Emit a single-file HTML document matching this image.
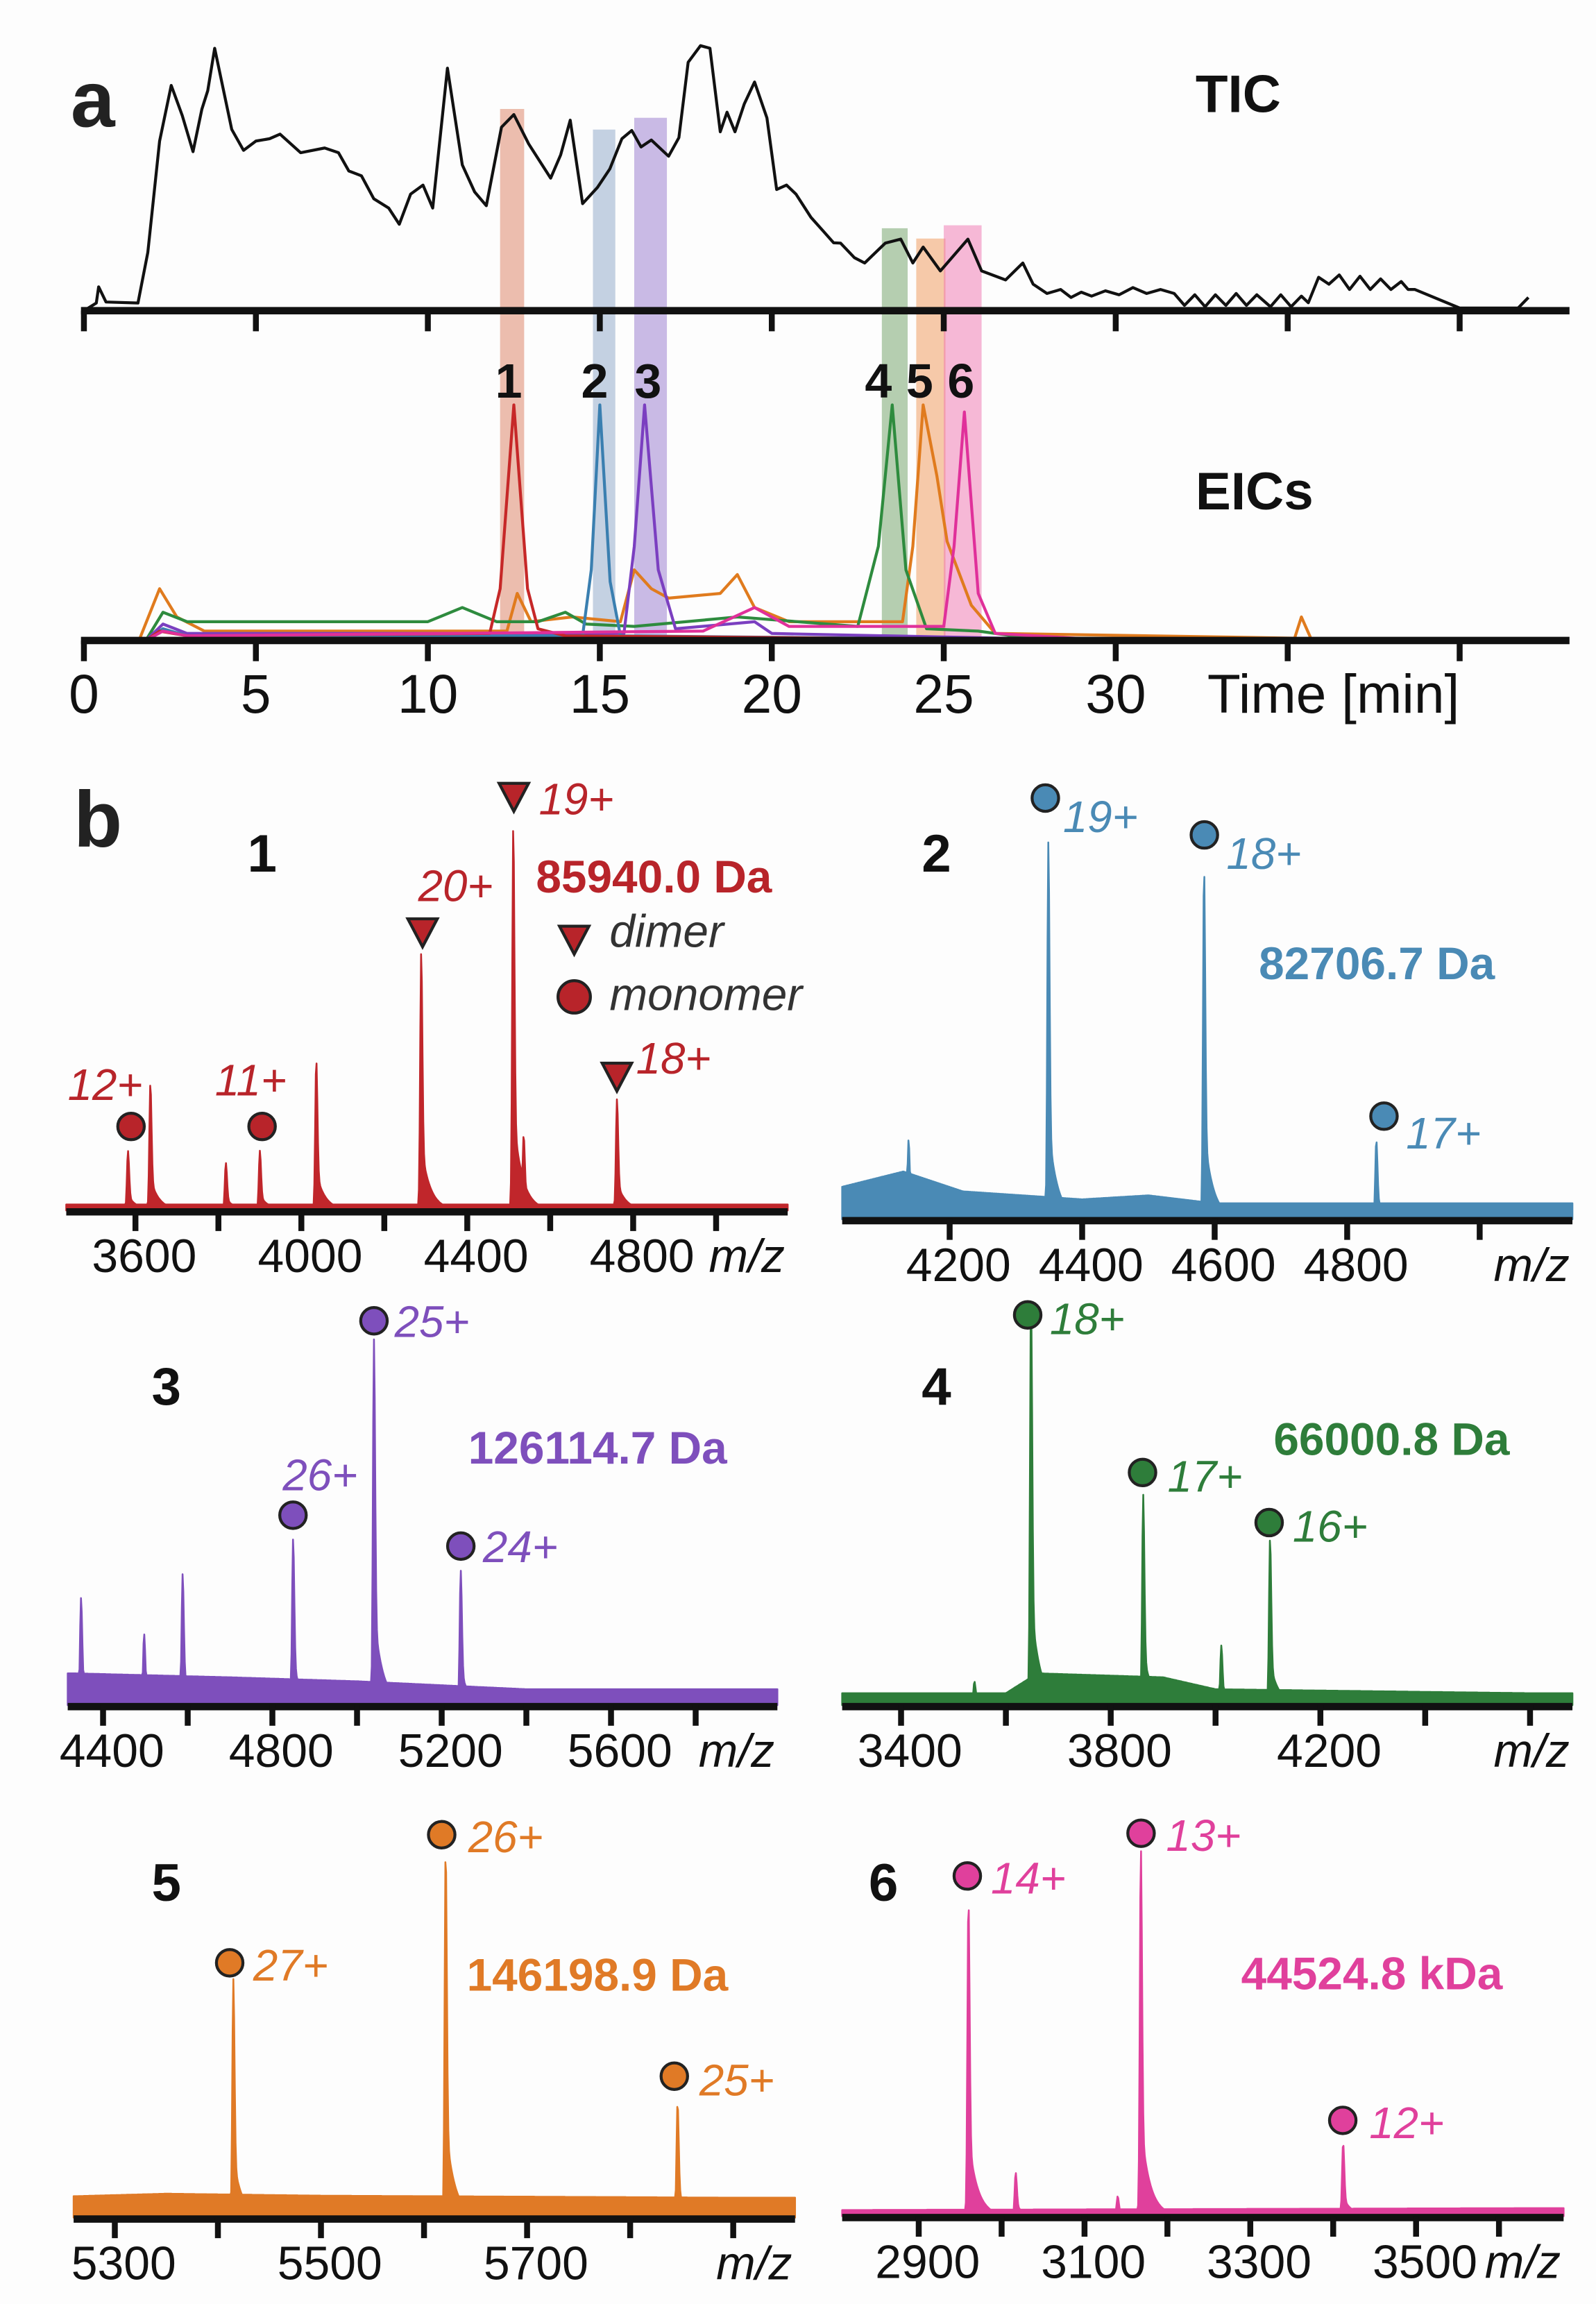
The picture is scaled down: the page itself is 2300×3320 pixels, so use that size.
<!DOCTYPE html>
<html><head><meta charset="utf-8">
<style>
html,body{margin:0;padding:0;background:#fdfdfd;}
svg{display:block;}
text{font-family:"Liberation Sans",Arial,sans-serif;}
</style></head>
<body>
<svg id="fig" xmlns="http://www.w3.org/2000/svg" width="2300" height="3320" viewBox="0 0 1084 1564.7" preserveAspectRatio="none">
<rect x="0" y="0" width="1084" height="1564.7" fill="#fdfdfd"/>
<g id="panelA"></g>
<g id="panelB"></g>
</svg>
<script>
// ---------- Panel a data ----------
const ticTimes = [0,0.36,0.43,0.64,1.57,1.86,2.2,2.54,2.86,3.17,3.43,3.6,3.8,4.3,4.64,5.0,5.4,5.7,6.3,7.0,7.4,7.7,8.07,8.43,8.86,9.17,9.5,9.86,10.14,10.57,11.0,11.36,11.7,12.14,12.5,12.93,13.57,13.86,14.14,14.5,14.93,15.29,15.64,15.93,16.2,16.5,17.0,17.3,17.57,17.93,18.2,18.5,18.7,18.93,19.2,19.5,19.86,20.14,20.43,20.7,21.14,21.5,21.8,22.0,22.4,22.7,23.3,23.75,24.1,24.4,24.9,25.7,26.1,26.8,27.3,27.6,28.0,28.4,28.7,29.0,29.3,29.7,30.1,30.5,30.9,31.3,31.7,32.0,32.3,32.6,32.9,33.2,33.5,33.8,34.1,34.5,34.8,35.1,35.4,35.6,35.9,36.2,36.5,36.8,37.1,37.4,37.7,38.0,38.3,38.5,38.7,40.0,41.0,41.5,41.7,42.0];
const ticValues = [0,2.9,9,3.3,2.9,22,64,85,73.6,60,76,83,99,68.4,60.5,64,64.9,66.6,59.6,61.4,59.6,52.7,50.9,42.2,38.7,32.6,44,47.4,38.7,91.5,55,44.8,39.6,69.2,74,63,50,58.8,71.9,40.4,46.5,53.5,64.9,68,61.8,64.4,58.3,65.3,93.7,100,99,67.5,74.9,67.5,78,86.3,72.7,45.7,47.4,44,35.2,30,25.6,25.5,20,18,25.5,27,18,24,15,27,15,11.6,18,10,6.5,8,5,7,5.5,7.5,6,8.7,6.5,8,6.5,2,6,1.5,6,2,6.5,2,6,1.5,6,1.5,5.5,3,12.6,10,13.5,8,13,8,12,8,11,8,8,1,1,1,1,5,0];
const eicTimes = [0,5,10,15,20,25,30];
const eicSeries = {
  red:   [[0,0],[1.8,0],[2.2,4],[3,2],[11.8,3],[12.1,22],[12.5,100],[12.9,22],[13.2,5],[14,2],[30,0]],
  blue:  [[0,0],[1.8,0],[2.3,5],[3,2],[14.5,2],[14.75,30],[15.0,100],[15.3,25],[15.6,2],[30,0]],
  purple:[[0,0],[1.8,0],[2.3,7],[3,3],[15.7,3],[16.0,40],[16.3,100],[16.7,30],[17.2,5],[19.5,8],[20,3],[30,0]],
  green: [[0,0],[1.8,0],[2.3,12],[3,8],[10,8],[11,14],[12,8],[13.2,8],[14,12],[14.6,7],[16,6],[19,10],[22.5,6],[23.1,40],[23.5,100],[23.9,30],[24.5,5],[26,4],[28,0],[36,0]],
  orange:[[0,0],[1.6,0],[2.2,22],[2.7,10],[3.5,4],[12.3,4],[12.6,20],[13,8],[14.2,10],[15.6,8],[16.0,30],[16.5,22],[17.0,18],[18.5,20],[19.0,28],[19.5,14],[20.5,8],[23.8,8],[24.1,40],[24.4,100],[24.8,70],[25.1,42],[25.8,15],[26.5,3],[31,2],[35.2,1],[35.4,10],[35.7,0],[36,0]],
  pink:  [[0,0],[1.8,0],[2.3,4],[3,2],[18,4],[19.5,14],[20.5,6],[25.0,6],[25.3,40],[25.6,97],[26.0,20],[26.5,3],[30,0]]
};
const eicColors = {red:"#c62828",blue:"#3a7fb0",purple:"#7b3fc0",green:"#2e8b3e",orange:"#e07b1e",pink:"#e0309a"};
const bandStart = [12.1,14.8,16.0,23.2,24.2,25.0];
const bandEnd   = [12.8,15.45,16.95,23.95,25.05,26.1];
const bandTop   = [74,88,80,155,162,153];
const bandColors= ["rgba(220,125,95,0.5)","rgba(140,165,200,0.5)","rgba(150,120,205,0.5)","rgba(110,160,100,0.5)","rgba(240,150,85,0.5)","rgba(240,115,175,0.5)"];
const bandLabels= ["1","2","3","4","5","6"];
const bandLabelTimes=[12.35,14.85,16.4,23.1,24.3,25.5];

// ---------- Panel b data ----------
const s1Peaks = [3582,3636,3818,3900,4036,4289,4511,4536,4761];
const s1Heights=[15,32,12,15,38,65,97,19,28];
const s2Peaks = [4000,4020,4138,4349,4584,4844];
const s2Heights=[14,14,20,95,89,20];
const s3Peaks = [4348,4497,4588,4849,5040,5245];
const s3Heights=[27,18,33,42,92,34];
const s4Peaks = [3648,3862,4011,4104,3540];
const s4Heights=[103,53,15,42,6];
const s5Peaks = [5415,5621,5846];
const s5Heights=[60,93,29];
const s6Peaks = [2960,3017,3168,3412,3140];
const s6Heights=[80,11,93,18.5,5];
const s1Ticks=[3600,3800,4000,4200,4400,4600,4800,5000];
const s1Labels=[3600,4000,4400,4800];
const s2Ticks=[4200,4400,4600,4800,5000];
const s2Labels=[4200,4400,4600,4800];
const s3Ticks=[4400,4600,4800,5000,5200,5400,5600,5800];
const s3Labels=[4400,4800,5200,5600];
const s4Ticks=[3400,3600,3800,4000,4200,4400,4600];
const s4Labels=[3400,3800,4200];
const s5Ticks=[5300,5400,5500,5600,5700,5800,5900];
const s5Labels=[5300,5500,5700];
const s6Ticks=[2900,3000,3100,3200,3300,3400,3500,3600];
const s6Labels=[2900,3100,3300,3500];
// baseline noise levels [m/z, level]
const s1Base=[[3420,1.5],[5180,1.5]];
const s2Base=[[4010,7],[4130,12],[4220,7],[4400,5],[4500,6],[4600,4],[4800,4],[5120,4]];
const s3Base=[[4330,8],[4700,7],[5000,6],[5400,4],[6000,4]];
const s4Base=[[3370,3],[3600,3],[3660,8],[3900,7],[4000,4],[4600,3]];
const s5Base=[[5210,5],[5350,6],[5500,5.5],[5900,5]];
const s6Base=[[2780,1.5],[3650,2]];

const NS="http://www.w3.org/2000/svg";
function mk(tag,attrs,parent){const e=document.createElementNS(NS,tag);for(const k in attrs)e.setAttribute(k,attrs[k]);parent.appendChild(e);return e;}
function txt(s,attrs,parent){const e=mk("text",attrs,parent);e.textContent=s;return e;}

// ---------- Panel a ----------
const A=document.getElementById("panelA");
const tx=t=>57+t*23.36;
const ticY=v=>211-v*1.8;
const eicY=v=>435-v*1.6;

for(let i=0;i<bandStart.length;i++){
  const r=mk("rect",{x:tx(bandStart[i]),y:bandTop[i],width:tx(bandEnd[i])-tx(bandStart[i]),height:435-bandTop[i],fill:bandColors[i]},A);
  
  
}
let d="";
ticTimes.forEach((t,i)=>{d+=(i?"L":"M")+tx(t).toFixed(1)+","+ticY(ticValues[i]).toFixed(1);});
const tic=mk("path",{d:d,fill:"none",stroke:"#111",'stroke-width':2,'stroke-linejoin':'round'},A);


["orange","green","purple","blue","red","pink"].forEach(k=>{
  let p="";eicSeries[k].forEach((pt,i)=>{p+=(i?"L":"M")+tx(pt[0]).toFixed(1)+","+eicY(pt[1]).toFixed(1);});
  const e=mk("path",{d:p,fill:"none",stroke:eicColors[k],'stroke-width':2,'stroke-linejoin':'round'},A);
  
  
});
[211,435].forEach((yy,j)=>{
  const ax=mk("line",{x1:55,x2:1066,y1:yy,y2:yy,stroke:"#111",'stroke-width':5},A);
  
  
  for(let t=0;t<=43;t+=5){
    const tk=mk("line",{x1:tx(t),x2:tx(t),y1:yy,y2:yy+14,stroke:"#111",'stroke-width':4},A);
    
    
  }
});
eicTimes.forEach(t=>{
  const l=txt(String(t),{x:tx(t),y:484,'font-size':37,'text-anchor':'middle',fill:'#111'},A);
  
  
});
bandLabels.forEach((s,i)=>{
  const l=txt(s,{x:tx(bandLabelTimes[i]),y:270,'font-size':33,'font-weight':'bold','text-anchor':'middle',fill:'#111'},A);
  
  
});
</script>
<script>
(function(){
const A=document.getElementById("panelA");
function t(s,a,n){const e=document.createElementNS("http://www.w3.org/2000/svg","text");for(const k in a)e.setAttribute(k,a[k]);e.textContent=s;A.appendChild(e);

}
t("a",{x:48,y:86,'font-size':54,'font-weight':'bold',fill:'#222'},'panel-a-label');
t("TIC",{x:812,y:76,'font-size':36,'font-weight':'bold',fill:'#111'},'tic-title');
t("EICs",{x:812,y:346,'font-size':36,'font-weight':'bold',fill:'#111'},'eic-title');
t("Time [min]",{x:820,y:484,'font-size':37,fill:'#111'},'x-axis-title');
})();
</script>
<script>
// ---------- Panel b ----------
const B=document.getElementById("panelB");
const spectra=[
 {id:1,peaks:s1Peaks,h:s1Heights,ticks:s1Ticks,labels:s1Labels,base:s1Base,x0:45,x1:535,ay:822,m0:3600,px0:92,k:0.2817,color:"#c0262b"},
 {id:2,peaks:s2Peaks,h:s2Heights,ticks:s2Ticks,labels:s2Labels,base:s2Base,x0:572,x1:1068,ay:828,m0:4200,px0:645,k:0.45,color:"#4a8ab5"},
 {id:3,peaks:s3Peaks,h:s3Heights,ticks:s3Ticks,labels:s3Labels,base:s3Base,x0:46,x1:528,ay:1158,m0:4400,px0:70,k:0.2875,color:"#7e4fbc"},
 {id:4,peaks:s4Peaks,h:s4Heights,ticks:s4Ticks,labels:s4Labels,base:s4Base,x0:572,x1:1068,ay:1158,m0:3400,px0:612,k:0.356,color:"#2e7d3a"},
 {id:5,peaks:s5Peaks,h:s5Heights,ticks:s5Ticks,labels:s5Labels,base:s5Base,x0:50,x1:540,ay:1506,m0:5300,px0:78,k:0.70,color:"#e07a26"},
 {id:6,peaks:s6Peaks,h:s6Heights,ticks:s6Ticks,labels:s6Labels,base:s6Base,x0:572,x1:1062,ay:1505,m0:2900,px0:624,k:0.563,color:"#e0409c"}
];
function interp(arr,m){if(m<=arr[0][0])return arr[0][1];for(let i=1;i<arr.length;i++){if(m<=arr[i][0]){const a=arr[i-1],b=arr[i];return a[1]+(b[1]-a[1])*(m-a[0])/(b[0]-a[0]);}}return arr[arr.length-1][1];}
spectra.forEach(S=>{
  const X=m=>S.px0+(m-S.m0)*S.k;
  const Y=v=>S.ay-v*2.7;
  const g=mk("g",{},B);
  
  
  let p="M"+S.x0+","+S.ay;
  for(let px=S.x0;px<=S.x1;px+=0.5){
    const m=S.m0+(px-S.px0)/S.k;
    let v=interp(S.base,m);
    S.peaks.forEach((mp,i)=>{
      const dd=px-X(mp);
      const c=dd<0?S.h[i]*Math.exp(-Math.pow(dd/1.0,2)):S.h[i]*(0.75*Math.exp(-Math.pow(dd/1.1,2))+0.25*Math.exp(-dd/6));
      v=Math.max(v,c);
    });
    p+="L"+px.toFixed(1)+","+Y(v).toFixed(1);
  }
  p+="L"+S.x1+","+S.ay+"Z";
  const sp=mk("path",{d:p,fill:S.color,stroke:S.color,'stroke-width':1.2,'stroke-linejoin':'round'},g);
  
  
  const ax=mk("line",{x1:S.x0,x2:S.x1,y1:S.ay+1,y2:S.ay+1,stroke:"#111",'stroke-width':5},g);
  
  
  S.ticks.forEach(m=>{
    const tk=mk("line",{x1:X(m),x2:X(m),y1:S.ay,y2:S.ay+14,stroke:"#111",'stroke-width':4},g);
    
    
  });
  S.labels.forEach(m=>{
    const l=txt(String(m),{x:X(m)+6,y:S.ay+42,'font-size':32,'text-anchor':'middle',fill:'#111'},g);
    
    
  });
  const mz=txt("m/z",{x:S.x1-2,y:S.ay+42,'font-size':32,'font-style':'italic','text-anchor':'end',fill:'#111'},g);
  
  
});
</script>
<script>
(function(){
const B=document.getElementById("panelB");
const NS="http://www.w3.org/2000/svg";
function T(s,x,y,c,o,n){const e=document.createElementNS(NS,"text");e.setAttribute("x",x);e.setAttribute("y",y);e.setAttribute("fill",c);
 e.setAttribute("font-size",o.fs||30);if(o.b)e.setAttribute("font-weight","bold");if(o.i)e.setAttribute("font-style","italic");e.textContent=s;B.appendChild(e);
 
 }
function C(x,y,c,r){const e=document.createElementNS(NS,"circle");e.setAttribute("cx",x);e.setAttribute("cy",y);e.setAttribute("r",r||9);e.setAttribute("fill",c);e.setAttribute("stroke","#222");e.setAttribute("stroke-width",2);B.appendChild(e);
 
 }
function Tri(x,y,c){const e=document.createElementNS(NS,"polygon");e.setAttribute("points",(x-10)+","+(y-9)+" "+(x+10)+","+(y-9)+" "+x+","+(y+10));e.setAttribute("fill",c);e.setAttribute("stroke","#222");e.setAttribute("stroke-width",2);B.appendChild(e);
 
 }
T("b",50,575,"#222",{fs:54,b:1},"panel-b-label");
const r="#b8242a";
T("1",168,592,"#111",{fs:36,b:1},"spectrum-1-label");
Tri(287,633,r);Tri(349,541,r);Tri(419,731,r);C(89,765,r);C(178,765,r);
T("12+",46,747,r,{i:1},"charge-12");T("11+",146,744,r,{i:1},"charge-11");T("20+",284,612,r,{i:1},"charge-20");
T("19+",366,553,r,{i:1},"charge-19");T("18+",432,729,r,{i:1},"charge-18");
T("85940.0 Da",364,606,r,{b:1,fs:31},"mass-1");
Tri(390,638,r);T("dimer",414,643,"#333",{i:1,fs:31},"legend-dimer");
C(390,677,r,11);T("monomer",414,686,"#333",{i:1,fs:31},"legend-monomer");
const bl="#4a8ab5";
T("2",626,592,"#111",{fs:36,b:1},"spectrum-2-label");
C(710,542,bl);C(818,567,bl);C(940,758,bl);
T("19+",722,565,bl,{i:1},"charge-19");T("18+",833,590,bl,{i:1},"charge-18");T("17+",955,780,bl,{i:1},"charge-17");
T("82706.7 Da",855,665,bl,{b:1,fs:31},"mass-2");
const pu="#7e4fbc";
T("3",103,954,"#111",{fs:36,b:1},"spectrum-3-label");
C(199,1029,pu);C(254,897,pu);C(313,1050,pu);
T("26+",192,1012,pu,{i:1},"charge-26");T("25+",268,908,pu,{i:1},"charge-25");T("24+",328,1061,pu,{i:1},"charge-24");
T("126114.7 Da",318,994,pu,{b:1,fs:31},"mass-3");
const gr="#2e7d3a";
T("4",626,954,"#111",{fs:36,b:1},"spectrum-4-label");
C(698,893,gr);C(776,1000,gr);C(862,1034,gr);
T("18+",713,906,gr,{i:1},"charge-18");T("17+",793,1013,gr,{i:1},"charge-17");T("16+",878,1047,gr,{i:1},"charge-16");
T("66000.8 Da",865,988,gr,{b:1,fs:31},"mass-4");
const or="#e07a26";
T("5",103,1291,"#111",{fs:36,b:1},"spectrum-5-label");
C(156,1333,or);C(300,1246,or);C(458,1410,or);
T("27+",172,1345,or,{i:1},"charge-27");T("26+",318,1258,or,{i:1},"charge-26");T("25+",475,1423,or,{i:1},"charge-25");
T("146198.9 Da",317,1352,or,{b:1,fs:31},"mass-5");
const pk="#e0409c";
T("6",590,1291,"#111",{fs:36,b:1},"spectrum-6-label");
C(657,1274,pk);C(775,1245,pk);C(912,1440,pk);
T("14+",673,1286,pk,{i:1},"charge-14");T("13+",792,1257,pk,{i:1},"charge-13");T("12+",930,1452,pk,{i:1},"charge-12");
T("44524.8 kDa",843,1351,pk,{b:1,fs:31},"mass-6");
})();
</script>
</body></html>
